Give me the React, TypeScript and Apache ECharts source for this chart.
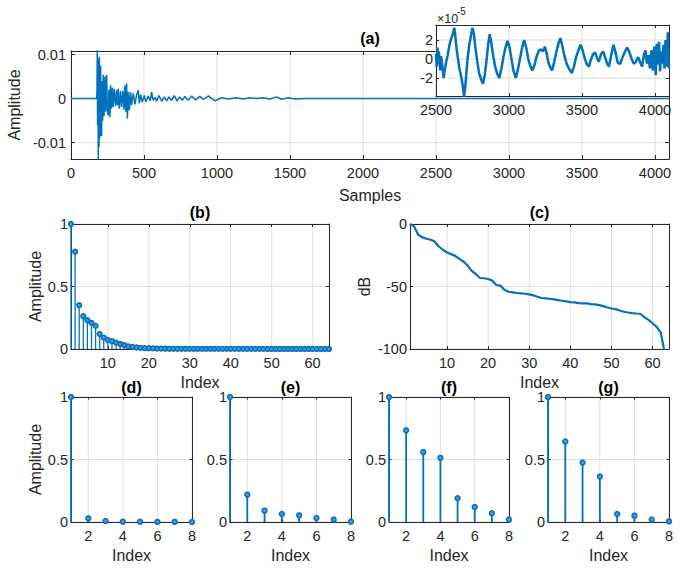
import React, { useEffect, useRef } from 'react';
import * as echarts from 'echarts';

const BLUE = '#0072BD';
const AX = '#262626';
const GRIDC = '#dfdfdf';
const FONT = '"Liberation Sans", Arial, Helvetica, sans-serif';

// ---------- (a) impulse response ----------
const mainSamples = [0, 176, 178, 180, 182, 185, 187, 189, 192, 194, 196, 198, 201, 203, 205, 210, 212, 217, 221, 226, 233, 237, 244, 249, 255, 260, 267, 271, 278, 283, 290, 297, 306, 313, 319, 324, 331, 340, 347, 356, 363, 370, 376, 381, 386, 393, 400, 408, 415, 426, 438, 449, 461, 468, 477, 488, 502, 513, 529, 543, 552, 563, 575, 586, 602, 621, 639, 655, 671, 689, 707, 726, 744, 762, 780, 803, 826, 853, 883, 906, 940, 986, 1031, 1077, 1134, 1180, 1225, 1271, 1316, 1362, 1408, 1442, 1488, 1533, 1600, 2000, 2500, 3000, 3500, 4096];
const mainValues = [0, 0, 0.002, 0.0115, -0.006, 0.009, -0.0142, 0.008, -0.011, 0.0095, -0.009, 0.006, -0.0085, 0.0075, -0.006, -0.0085, 0.004, -0.005, 0.0054, -0.004, 0.005, -0.003, 0.0054, -0.0028, -0.0038, 0.002, -0.0042, 0.003, -0.0023, 0.0025, -0.0019, 0.0022, -0.0017, 0.0019, -0.0015, 0.0023, -0.0023, 0.0017, -0.0019, 0.0018, -0.0025, 0.003, -0.003, 0.0035, -0.0045, 0.0015, -0.0027, 0.0015, -0.0015, 0.0012, -0.0013, 0.0008, 0.0019, -0.0011, 0.0009, -0.0008, 0.0007, -0.0007, 0.0006, -0.0005, 0.0015, -0.0004, 0.0003, -0.0006, 0.0007, -0.0006, 0.0004, -0.0005, 0.0004, -0.0004, 0.0007, -0.0005, 0.0004, -0.0004, 0.0005, -0.0004, 0.0006, -0.0003, 0.0005, -0.0002, 0.0006, -0.0005, 0.0002, -0.0001, 0.0002, -0.0001, 0.0002, 0, 0.0002, -0.0001, 0.0004, -0.00015, 0.0002, -0.0001, 0.00005, 0, 0, 0, 0, 0];

// inset, values in units of 1e-5
const insetSamples = [2500, 2505, 2510, 2515, 2520, 2528, 2535, 2545, 2552, 2560, 2570, 2580, 2592, 2605, 2615, 2625, 2632, 2640, 2650, 2660, 2672, 2683, 2692, 2700, 2708, 2716, 2728, 2740, 2750, 2760, 2770, 2782, 2795, 2810, 2822, 2833, 2845, 2857, 2868, 2878, 2890, 2905, 2920, 2934, 2948, 2962, 2976, 2990, 3003, 3015, 3030, 3047, 3060, 3075, 3090, 3104, 3118, 3132, 3147, 3160, 3175, 3190, 3205, 3218, 3232, 3245, 3258, 3270, 3283, 3295, 3310, 3325, 3340, 3352, 3365, 3380, 3395, 3410, 3430, 3445, 3460, 3475, 3490, 3505, 3520, 3535, 3548, 3560, 3575, 3590, 3603, 3615, 3630, 3645, 3660, 3672, 3685, 3700, 3715, 3728, 3745, 3762, 3778, 3795, 3810, 3825, 3840, 3855, 3870, 3885, 3900, 3912, 3925, 3935, 3945, 3955, 3965, 3975, 3985, 3995, 4005, 4012, 4020, 4028, 4035, 4042, 4050, 4058, 4065, 4072, 4080, 4088, 4096];
const insetValuesE5 = [0.5, -0.8, 1.2, -0.5, 0.8, -1.2, 0.3, -1.0, -2.0, -1.2, -0.3, 0.4, 1.5, 2.2, 2.6, 3.3, 2.5, 1.2, 0.1, -1.0, -1.8, -2.8, -4.0, -3.0, -1.5, 0.0, 1.5, 2.5, 3.3, 2.6, 1.2, -0.2, -1.5, -2.2, -2.6, -1.8, -0.3, 1.5, 2.6, 1.8, 0.5, -0.8, -1.6, -2.0, -1.0, 0.2, 1.2, 1.9, 1.3, 0.2, -1.2, -2.0, -1.2, 0.0, 1.2, 2.0, 1.2, 0.0, -0.8, -1.2, -0.6, 0.3, 0.9, 1.0, 0.8, 1.3, 0.6, -0.4, -0.9, -1.2, -0.3, 0.8, 1.7, 2.2, 1.4, 0.3, -0.5, -1.0, -1.5, -0.8, 0.2, 0.9, 1.5, 0.9, 0.0, -0.6, -0.8, -0.1, 0.5, 0.7, 0.1, -0.3, 0.5, 0.8, 0.1, -0.5, -0.8, 0.4, 1.5, 0.8, -0.4, -0.5, 0.2, 0.8, 1.2, 0.7, 0.0, -0.5, -0.3, 0.2, -0.4, -0.8, 0.5, 0.9, -0.5, 0.4, -1.0, 0.9, -1.2, 1.3, -1.7, 1.6, -0.6, 1.8, -1.3, 0.8, -0.5, 1.5, -1.0, 2.0, -0.8, 2.8, -1.0];

const mainXTicks = [0, 500, 1000, 1500, 2000, 2500, 3000, 3500, 4000];
const mainYTicks = [-0.01, 0, 0.01];
const insetXTicks = [2500, 3000, 3500, 4000];
const insetYTicks = [-2, 0, 2];

// ---------- (b), (c) ----------
const coeffIndex = Array.from({ length: 64 }, (_, i) => i + 1);
const coeffAmplitude = [1, 0.778, 0.35, 0.262, 0.23, 0.209, 0.185, 0.12, 0.091, 0.072, 0.062, 0.051, 0.04, 0.03, 0.021, 0.016, 0.012, 0.009, 0.007, 0.0063, 0.0054, 0.0036, 0.0034, 0.0023, 0.0019, 0.0018, 0.0017, 0.0017, 0.0016, 0.0015, 0.0014, 0.0012, 0.0011, 0.0011, 0.001, 0.001, 0.0009, 0.0009, 0.0008, 0.00075, 0.00073, 0.00068, 0.00067, 0.00067, 0.00062, 0.0006, 0.00057, 0.00052, 0.00046, 0.00042, 0.00039, 0.00035, 0.00031, 0.00029, 0.00027, 0.00026, 0.00026, 0.00019, 0.00015, 0.00011, 0.00008, 0.00005, 0.00001, 0];
const coeffDb = [0, -1.9, -8.6, -10.7, -11.8, -12.6, -14, -18, -20.6, -22.8, -24.1, -25.5, -27.9, -30, -33.2, -37.5, -40, -43.2, -43.4, -44, -45.3, -48.8, -49.3, -52.8, -54.2, -54.7, -55.2, -55.5, -55.8, -56.3, -57.1, -58.2, -59.2, -59.5, -59.8, -60.3, -60.9, -61.4, -61.9, -62.5, -62.7, -63.3, -63.5, -63.5, -64.1, -64.3, -64.9, -65.7, -66.8, -67.6, -68.1, -69.2, -70.2, -70.8, -71.3, -71.6, -71.8, -74.5, -76.7, -79.4, -82.3, -86.9, -104, -140];
const indexTicks64 = [10, 20, 30, 40, 50, 60];
const ampTicks = [0, 0.5, 1];
const dbTicks = [-100, -50, 0];

// ---------- (d)-(g) ----------
const index8 = [1, 2, 3, 4, 5, 6, 7, 8];
const ampD = [1, 0.029, 0.008, 0.003, 0.002, 0.001, 0.001, 0.0];
const ampE = [1, 0.219, 0.091, 0.064, 0.053, 0.032, 0.019, 0.003];
const ampF = [1, 0.733, 0.559, 0.513, 0.19, 0.12, 0.07, 0.019];
const ampG = [1, 0.644, 0.476, 0.364, 0.064, 0.051, 0.019, 0.005];
const indexTicks8 = [2, 4, 6, 8];

const fmt = (v: number) => String(v);

function primaryAxis(pos: string, gridIndex: number, min: number, max: number, ticks: number[], o: any = {}) {
  const isX = pos === 'bottom' || pos === 'top';
  return {
    type: 'value', gridIndex, min, max, position: pos, z: o.z ?? 2,
    name: o.name, nameLocation: 'middle', nameGap: o.nameGap ?? 25,
    nameTextStyle: { color: AX, fontSize: 16, fontFamily: FONT },
    axisLine: { show: true, onZero: false, lineStyle: { color: AX, width: 1 } },
    axisTick: { show: true, inside: true, length: o.tickLen ?? 3, customValues: ticks, lineStyle: { color: AX, width: 1 } },
    axisLabel: { show: true, customValues: ticks, formatter: fmt, margin: o.margin ?? (isX ? 6 : 3), color: AX, fontSize: 14.5, fontFamily: FONT },
    splitLine: { show: false },
  };
}

function boxAxis(pos: string, gridIndex: number, min: number, max: number, ticks: number[], tickLen = 3, z = 2) {
  return {
    type: 'value', gridIndex, min, max, position: pos, z,
    axisLine: { show: true, onZero: false, lineStyle: { color: AX, width: 1 } },
    axisTick: { show: true, inside: true, length: tickLen, customValues: ticks, lineStyle: { color: AX, width: 1 } },
    axisLabel: { show: false },
    splitLine: { show: false },
  };
}

// light grid lines drawn at the tick values through the panel's own axes
function gridSeries(axisIndex: number, xt: number[], yt: number[], xr: number[], yr: number[], z: number) {
  return {
    type: 'custom',
    coordinateSystem: 'cartesian2d',
    xAxisIndex: axisIndex, yAxisIndex: axisIndex,
    z, silent: true,
    data: [...xt.map((v) => [v, 0]), ...yt.map((v) => [v, 1])],
    renderItem: (params: any, api: any) => {
      const v = api.value(0);
      const isY = api.value(1) === 1;
      const p0 = isY ? api.coord([xr[0], v]) : api.coord([v, yr[0]]);
      const p1 = isY ? api.coord([xr[1], v]) : api.coord([v, yr[1]]);
      return { type: 'line', shape: { x1: p0[0], y1: p0[1], x2: p1[0], y2: p1[1] }, style: { stroke: GRIDC, lineWidth: 1 } };
    },
  };
}

function stemSeries(axisIndex: number, xs: number[], ys: number[], lineWidth: number, r: number) {
  return {
    type: 'custom',
    coordinateSystem: 'cartesian2d',
    xAxisIndex: axisIndex, yAxisIndex: axisIndex,
    encode: { x: 0, y: 1 },
    z: 4,
    data: xs.map((x, i) => [x, ys[i]]),
    renderItem: (params: any, api: any) => {
      const x = api.value(0);
      const y = api.value(1);
      const p0 = api.coord([x, 0]);
      const p1 = api.coord([x, y]);
      return {
        type: 'group',
        children: [
          { type: 'line', shape: { x1: p0[0], y1: p0[1], x2: p1[0], y2: p1[1] }, style: { stroke: BLUE, lineWidth } },
          { type: 'circle', shape: { cx: p1[0], cy: p1[1], r }, style: { fill: '#4d97d3', stroke: BLUE, lineWidth: 1.6 } },
        ],
      };
    },
  };
}

function textEl(x: number, y: number, text: string, font: string, align = 'center', fill = '#000') {
  return {
    type: 'text', x, y, z: 20,
    style: { text, font, fill, align, verticalAlign: 'middle', textAlign: align, textVerticalAlign: 'middle' },
  };
}

export default function App() {
  const ref = useRef<HTMLDivElement>(null);
  useEffect(() => {
    if (!ref.current) return;
    const chart = echarts.init(ref.current, null, { renderer: 'svg' });

    const grids = [
      { left: 71, top: 51, width: 598, height: 108 }, // a
      { left: 436, top: 25, width: 233, height: 71 }, // inset
      { left: 71, top: 224, width: 258, height: 125 }, // b
      { left: 410, top: 224, width: 259, height: 125 }, // c
      { left: 71, top: 397, width: 121, height: 125 }, // d
      { left: 230, top: 397, width: 121, height: 125 }, // e
      { left: 389, top: 397, width: 120, height: 125 }, // f
      { left: 548, top: 397, width: 121, height: 125 }, // g
    ].map((g) => ({ ...g, containLabel: false, outerBoundsMode: 'none' }));

    const xAxis: any[] = [];
    const yAxis: any[] = [];
    const series: any[] = [];
    const addPanel = (gi: number, xr: number[], xt: number[], yr: number[], yt: number[], xo: any, yo: any, tickLen: number, z = 2) => {
      const ai = xAxis.length;
      xAxis.push(primaryAxis('bottom', gi, xr[0], xr[1], xt, { ...xo, tickLen, z }));
      xAxis.push(boxAxis('top', gi, xr[0], xr[1], xt, tickLen, z));
      yAxis.push(primaryAxis('left', gi, yr[0], yr[1], yt, { ...yo, tickLen, z }));
      yAxis.push(boxAxis('right', gi, yr[0], yr[1], yt, tickLen, z));
      series.push(gridSeries(ai, xt, yt, xr, yr, z - 1));
    };
    addPanel(0, [0, 4096], mainXTicks, [-0.0137, 0.0108], mainYTicks, { name: 'Samples', nameGap: 28 }, { name: 'Amplitude', nameGap: 45, margin: 5 }, 4);
    addPanel(1, [2500, 4096], insetXTicks, [-3.9, 3.58], insetYTicks, {}, { margin: 3 }, 3, 10);
    addPanel(2, [1, 64], indexTicks64, [0, 1], ampTicks, { name: 'Index', nameGap: 25 }, { name: 'Amplitude', nameGap: 26 }, 3);
    addPanel(3, [1, 64], indexTicks64, [-100, 0], dbTicks, { name: 'Index', nameGap: 25 }, { name: 'dB', nameGap: 38 }, 3);
    addPanel(4, [1, 8], indexTicks8, [0, 1], ampTicks, { name: 'Index', nameGap: 25 }, { name: 'Amplitude', nameGap: 26 }, 2.5);
    addPanel(5, [1, 8], indexTicks8, [0, 1], ampTicks, { name: 'Index', nameGap: 25 }, {}, 2.5);
    addPanel(6, [1, 8], indexTicks8, [0, 1], ampTicks, { name: 'Index', nameGap: 25 }, {}, 2.5);
    addPanel(7, [1, 8], indexTicks8, [0, 1], ampTicks, { name: 'Index', nameGap: 25 }, {}, 2.5);

    series.push(
      {
        type: 'line', xAxisIndex: 0, yAxisIndex: 0, z: 3,
        data: mainSamples.map((s, i) => [s, mainValues[i]]),
        showSymbol: false, clip: true,
        lineStyle: { color: BLUE, width: 1.5 },
      },
      {
        type: 'line', xAxisIndex: 2, yAxisIndex: 2, z: 12,
        data: insetSamples.map((s, i) => [s, insetValuesE5[i]]),
        showSymbol: false, clip: true,
        lineStyle: { color: BLUE, width: 2.5 },
      },
      stemSeries(4, coeffIndex, coeffAmplitude, 1.3, 2.3),
      {
        type: 'line', xAxisIndex: 6, yAxisIndex: 6, z: 4,
        data: coeffIndex.map((x, i) => [x, coeffDb[i]]),
        showSymbol: false, clip: true,
        lineStyle: { color: BLUE, width: 2.2 },
      },
      stemSeries(8, index8, ampD, 1.8, 2.4),
      stemSeries(10, index8, ampE, 1.8, 2.4),
      stemSeries(12, index8, ampF, 1.8, 2.4),
      stemSeries(14, index8, ampG, 1.8, 2.4),
    );

    const titleFont = `bold 16px ${FONT}`;
    const graphic: any[] = [
      { type: 'rect', shape: { x: 436, y: 25, width: 233, height: 71 }, style: { fill: '#ffffff' }, z: 5, silent: true },
      textEl(370, 38, '(a)', titleFont),
      textEl(200, 212, '(b)', titleFont),
      textEl(539.5, 212, '(c)', titleFont),
      textEl(131.5, 387, '(d)', titleFont),
      textEl(290.5, 387, '(e)', titleFont),
      textEl(449, 387, '(f)', titleFont),
      textEl(608.5, 387, '(g)', titleFont),
      textEl(437, 18.5, '×10', `12.5px ${FONT}`, 'left', AX),
      textEl(457, 11.5, '-5', `10px ${FONT}`, 'left', AX),
    ];

    chart.setOption({
      animation: false,
      backgroundColor: '#ffffff',
      grid: grids,
      xAxis,
      yAxis,
      series,
      graphic,
    });
    return () => chart.dispose();
  }, []);

  return (
    <div
      ref={ref}
      style={{ position: 'absolute', left: 0, top: 0, width: 680, height: 569, background: '#fff' }}
    />
  );
}
